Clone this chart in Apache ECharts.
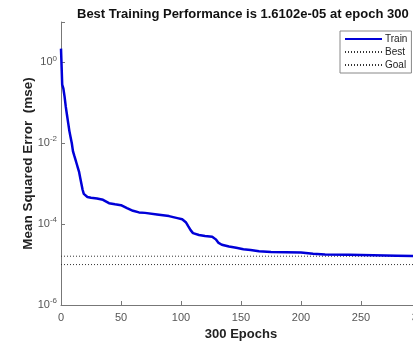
<!DOCTYPE html>
<html><head><meta charset="utf-8">
<script src="https://cdn.jsdelivr.net/npm/echarts@6/dist/echarts.min.js"></script>
<style>html,body{margin:0;padding:0;background:#fff}#c{width:413px;height:349px}</style>
</head><body><div id="c"></div>
<script>
var epochs = [0,1,2,3,4,5,6,7,8,9,10,11,12,13,14,15,16,17,18,19,20,22,25,30,35,40,45,50,55,60,65,70,80,90,97,101,104,106,108,110,115,120,126,129,131,134,140,146,152,158,165,175,200,210,220,240,260,280,300];
var trainMse = [2.19,0.282,0.224,0.141,0.0794,0.0501,0.0316,0.02,0.0141,0.01,0.0063,0.005,0.004,0.00316,0.00251,0.002,0.00141,0.001,7.1e-4,5.6e-4,5.0e-4,4.7e-4,4.5e-4,4.3e-4,4.0e-4,3.3e-4,3.1e-4,2.95e-4,2.5e-4,2.14e-4,1.95e-4,1.9e-4,1.74e-4,1.58e-4,1.41e-4,1.32e-4,1.12e-4,8.9e-5,7.1e-5,6.0e-5,5.4e-5,5.1e-5,4.9e-5,4.2e-5,3.5e-5,3.1e-5,2.8e-5,2.6e-5,2.4e-5,2.3e-5,2.14e-5,2.04e-5,2.0e-5,1.86e-5,1.78e-5,1.74e-5,1.70e-5,1.66e-5,1.6102e-5];
var bestValue = 1.6102e-5;
var goalValue = 1e-5;
var lineEpochs = [0, 300];
var xTicks = [0,50,100,150,200,250,300];
var yTickExponents = [-6,-4,-2,0];
var titleText = 'Best Training Performance is 1.6102e-05 at epoch 300';

var chart = echarts.init(document.getElementById('c'), null, {renderer:'canvas'});
var font = 'Liberation Sans, Arial, sans-serif';
function pairs(xs, ys){ return xs.map(function(x,i){return [x, ys[i]];}); }
chart.setOption({
  animation:false,
  backgroundColor:'#fff',
  title:{text:titleText,left:72,top:3,textStyle:{fontFamily:font,fontSize:13,fontWeight:'bold',color:'#111'}},
  grid:{left:61,right:-8,top:22,bottom:44,outerBoundsMode:'none',containLabel:false},
  legend:{
    orient:'vertical',left:340,top:31,itemWidth:37,itemHeight:10,itemGap:3,
    padding:[3,4,3,4],borderColor:'#888',borderWidth:1,backgroundColor:'#fff',
    itemStyle:{color:'transparent',borderColor:'transparent',borderWidth:0},
    textStyle:{fontFamily:font,fontSize:10,color:'#222',padding:[0,0,0,-2]},
    data:['Train','Best','Goal']
  },
  xAxis:{type:'value',min:0,max:300,interval:50,
    name:'300 Epochs',nameLocation:'middle',nameGap:23,
    nameTextStyle:{fontFamily:font,fontSize:13,fontWeight:'bold',color:'#222'},
    axisLine:{lineStyle:{color:'#777',width:1}},
    axisTick:{inside:true,length:4,lineStyle:{color:'#777'}},
    axisLabel:{fontFamily:font,fontSize:11,color:'#555',margin:7,
      formatter:function(v){return xTicks.indexOf(v)>=0?String(v):'';}},
    splitLine:{show:false}},
  yAxis:{type:'log',logBase:10,min:1e-6,max:10,interval:2,
    name:'Mean Squared Error  (mse)',nameLocation:'middle',nameGap:26,nameMoveOverlap:false,
    nameTextStyle:{fontFamily:font,fontSize:13.5,fontWeight:'bold',color:'#222'},
    axisLine:{show:true,lineStyle:{color:'#777',width:1}},
    axisTick:{show:true,inside:true,length:4,lineStyle:{color:'#777'}},
    minorTick:{show:false},
    axisLabel:{fontFamily:font,fontSize:11,color:'#555',margin:4,
      formatter:function(v){var e=Math.round(Math.log10(v)); if(yTickExponents.indexOf(e)<0) return ''; return '{b|10}{s|'+e+'}';},
      rich:{b:{fontFamily:font,fontSize:11,color:'#555'},s:{fontFamily:font,fontSize:8,color:'#555',padding:[0,0,8,0]}}},
    splitLine:{show:false}},
  series:[
    {name:'Train',type:'line',data:pairs(epochs,trainMse),symbol:'none',smooth:false,
      lineStyle:{color:'#0000d8',width:2.5},itemStyle:{color:'#0000d8'},z:5},
    {name:'Best',type:'line',data:pairs(lineEpochs,[bestValue,bestValue]),symbol:'none',
      lineStyle:{color:'#333',width:1,type:[1,2]},itemStyle:{color:'#333'},z:3},
    {name:'Goal',type:'line',data:pairs(lineEpochs,[goalValue,goalValue]),symbol:'none',
      lineStyle:{color:'#333',width:1,type:[1,2]},itemStyle:{color:'#333'},z:3}
  ]
});
</script></body></html>
